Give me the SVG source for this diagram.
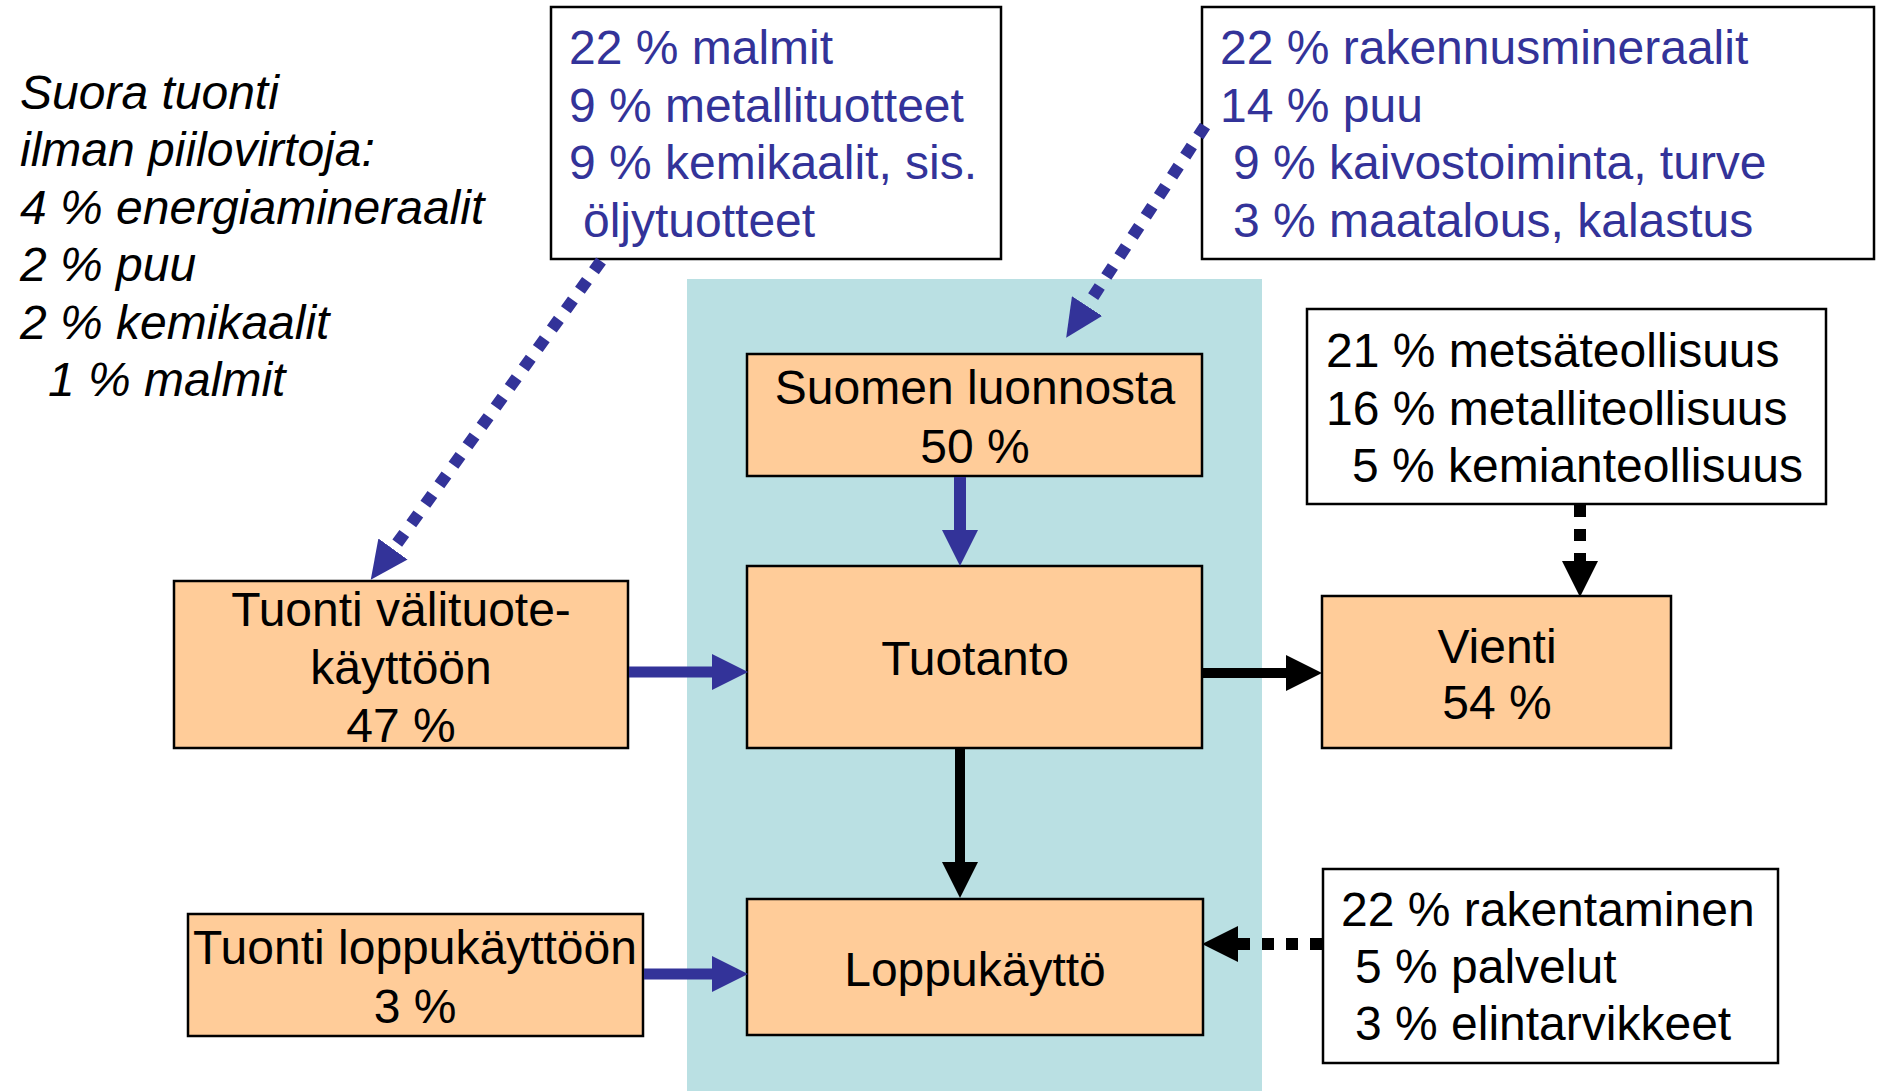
<svg xmlns="http://www.w3.org/2000/svg" width="1878" height="1091" viewBox="0 0 1878 1091">
<style>
text{font-family:"Liberation Sans",Arial,sans-serif;font-size:48px;fill:#000}
.blue{fill:#333399}
.it{font-style:italic}
.c{text-anchor:middle}
.node{fill:#ffcc99;stroke:#000;stroke-width:2.5}
.note{fill:#fff;stroke:#000;stroke-width:2.5}
.bl{stroke:#333399;fill:none}
.bk{stroke:#000;fill:none}
.dot{stroke-width:12;stroke-dasharray:12 12}
</style>
<defs>
<marker id="hb" markerUnits="userSpaceOnUse" viewBox="0 0 36 36" refX="0" refY="18" markerWidth="36" markerHeight="36" orient="auto"><path d="M0,0 L36,18 L0,36 z" fill="#333399"/></marker>
<marker id="hk" markerUnits="userSpaceOnUse" viewBox="0 0 36 36" refX="0" refY="18" markerWidth="36" markerHeight="36" orient="auto"><path d="M0,0 L36,18 L0,36 z" fill="#000"/></marker>
<marker id="hbl" markerUnits="userSpaceOnUse" viewBox="0 0 38 36" refX="0" refY="18" markerWidth="38" markerHeight="36" orient="auto"><path d="M0,0 L38,18 L0,36 z" fill="#333399"/></marker>
</defs>
<rect width="1878" height="1091" fill="#fff"/>
<rect id="production-area" x="687" y="279" width="575" height="812" fill="#bae0e3"/>

<g id="direct-import-note">
<text class="it" x="20" y="109">Suora tuonti</text>
<text class="it" x="20" y="166">ilman piilovirtoja:</text>
<text class="it" x="20" y="224">4 % energiamineraalit</text>
<text class="it" x="20" y="281">2 % puu</text>
<text class="it" x="20" y="339">2 % kemikaalit</text>
<text class="it" x="48" y="396">1 % malmit</text>
</g>

<g id="import-breakdown">
<rect class="note" x="551" y="7" width="450" height="252"/>
<text class="blue" x="569" y="64">22 % malmit</text>
<text class="blue" x="569" y="122">9 % metallituotteet</text>
<text class="blue" x="569" y="179">9 % kemikaalit, sis.</text>
<text class="blue" x="583" y="237">öljytuotteet</text>
</g>

<g id="nature-breakdown">
<rect class="note" x="1202" y="7" width="672" height="252"/>
<text class="blue" x="1220" y="64">22 % rakennusmineraalit</text>
<text class="blue" x="1220" y="122">14 % puu</text>
<text class="blue" x="1233" y="179">9 % kaivostoiminta, turve</text>
<text class="blue" x="1233" y="237">3 % maatalous, kalastus</text>
</g>

<g id="suomen-luonnosta">
<rect class="node" x="747" y="354" width="455" height="122"/>
<text class="c" x="975" y="404">Suomen luonnosta</text>
<text class="c" x="975" y="463">50 %</text>
</g>

<g id="tuotanto">
<rect class="node" x="747" y="566" width="455" height="182"/>
<text class="c" x="975" y="675">Tuotanto</text>
</g>

<g id="tuonti-valituote">
<rect class="node" x="174" y="581" width="454" height="167"/>
<text class="c" x="401" y="626">Tuonti välituote-</text>
<text class="c" x="401" y="684">käyttöön</text>
<text class="c" x="401" y="742">47 %</text>
</g>

<g id="export-breakdown">
<rect class="note" x="1307" y="309" width="519" height="195"/>
<text x="1326" y="367">21 % metsäteollisuus</text>
<text x="1326" y="425">16 % metalliteollisuus</text>
<text x="1352" y="482">5 % kemianteollisuus</text>
</g>

<g id="vienti">
<rect class="node" x="1322" y="596" width="349" height="152"/>
<text class="c" x="1497" y="663">Vienti</text>
<text class="c" x="1497" y="719">54 %</text>
</g>

<g id="tuonti-loppukaytto">
<rect class="node" x="188" y="914" width="455" height="122"/>
<text class="c" x="415" y="964">Tuonti loppukäyttöön</text>
<text class="c" x="415" y="1023">3 %</text>
</g>

<g id="loppukaytto">
<rect class="node" x="747" y="899" width="456" height="136"/>
<text class="c" x="975" y="986">Loppukäyttö</text>
</g>

<g id="final-use-breakdown">
<rect class="note" x="1323" y="869" width="455" height="194"/>
<text x="1341" y="926">22 % rakentaminen</text>
<text x="1355" y="983">5 % palvelut</text>
<text x="1355" y="1040">3 % elintarvikkeet</text>
</g>

<g id="connectors">
<path class="bl dot" d="M601,261 L393,549" marker-end="url(#hbl)"/>
<path class="bl dot" d="M1205,126 L1087,306" marker-end="url(#hbl)"/>
<path class="bl" stroke-width="12" d="M960,477 L960,530" marker-end="url(#hb)"/>
<path class="bl" stroke-width="11" d="M629,672 L712,672" marker-end="url(#hb)"/>
<path class="bl" stroke-width="11" d="M644,974 L712,974" marker-end="url(#hb)"/>
<path class="bk" stroke-width="10" d="M1203,673 L1286,673" marker-end="url(#hk)"/>
<path class="bk" stroke-width="10" d="M960,749 L960,862" marker-end="url(#hk)"/>
<path class="bk dot" d="M1580,505 L1580,561" marker-end="url(#hk)"/>
<path class="bk dot" d="M1322,944 L1238,944" marker-end="url(#hk)"/>
</g>
</svg>
